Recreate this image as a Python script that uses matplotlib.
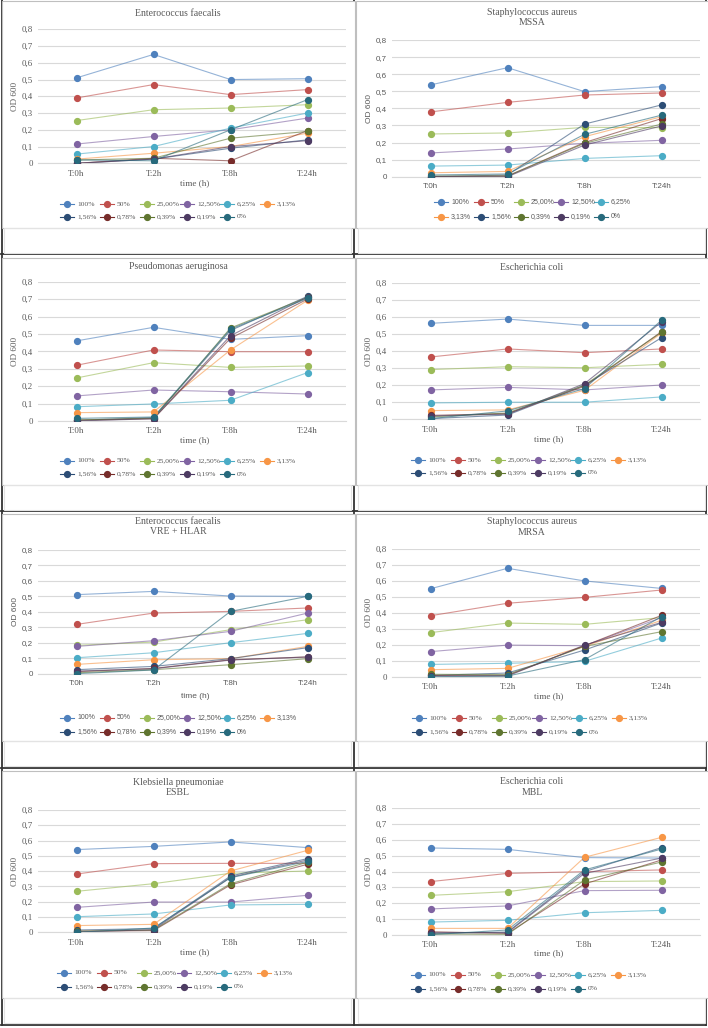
import numpy as np
import matplotlib
matplotlib.use('Agg')
import matplotlib.pyplot as plt
from matplotlib.patches import Rectangle
from matplotlib.lines import Line2D

#%% data
times = ['T:0h', 'T:2h', 'T:8h', 'T:24h']
conc = ['100%', '50%', '25,00%', '12,50%', '6,25%', '3,13%',
        '1,56%', '0,78%', '0,39%', '0,19%', '0%']
colors = ['#4F81BD', '#C0504D', '#9BBB59', '#8064A2', '#4BACC6', '#F79646',
          '#2C4D75', '#772C2A', '#5F7530', '#4D3B62', '#276A7C']

# one row per concentration (same order as conc), OD 600 at T:0h, T:2h, T:8h, T:24h
ef = [[0.51, 0.65, 0.50, 0.505],
      [0.39, 0.47, 0.41, 0.44],
      [0.255, 0.32, 0.33, 0.35],
      [0.115, 0.16, 0.20, 0.27],
      [0.055, 0.10, 0.21, 0.30],
      [0.025, 0.06, 0.10, 0.18],
      [0.0, 0.025, 0.09, 0.14],
      [0.0, 0.03, 0.015, 0.195],
      [0.02, 0.03, 0.15, 0.19],
      [0.0, 0.025, 0.10, 0.135],
      [0.02, 0.015, 0.20, 0.38]]

mssa = [[0.537, 0.638, 0.498, 0.527],
        [0.379, 0.435, 0.478, 0.49],
        [0.25, 0.256, 0.289, 0.287],
        [0.139, 0.162, 0.195, 0.213],
        [0.062, 0.068, 0.107, 0.123],
        [0.023, 0.031, 0.234, 0.351],
        [0.0, 0.01, 0.308, 0.42],
        [0.0, 0.004, 0.20, 0.34],
        [0.004, 0.004, 0.195, 0.308],
        [0.0, 0.0, 0.185, 0.297],
        [0.01, 0.016, 0.248, 0.36]]

pa = [[0.46, 0.538, 0.469, 0.49],
      [0.32, 0.408, 0.398, 0.398],
      [0.247, 0.335, 0.308, 0.316],
      [0.144, 0.178, 0.168, 0.155],
      [0.082, 0.098, 0.119, 0.278],
      [0.048, 0.052, 0.408, 0.693],
      [0.004, 0.019, 0.52, 0.716],
      [0.004, 0.013, 0.475, 0.70],
      [0.006, 0.016, 0.534, 0.71],
      [0.0, 0.013, 0.49, 0.712],
      [0.015, 0.023, 0.528, 0.704]]

ec = [[0.562, 0.587, 0.55, 0.55],
      [0.365, 0.412, 0.39, 0.412],
      [0.291, 0.308, 0.302, 0.322],
      [0.172, 0.187, 0.172, 0.201],
      [0.096, 0.10, 0.10, 0.131],
      [0.051, 0.055, 0.17, 0.505],
      [0.004, 0.025, 0.199, 0.478],
      [0.023, 0.033, 0.193, 0.513],
      [0.014, 0.037, 0.20, 0.51],
      [0.02, 0.03, 0.209, 0.57],
      [0.004, 0.049, 0.18, 0.58]]

vre = [[0.51, 0.531, 0.501, 0.499],
       [0.318, 0.391, 0.402, 0.424],
       [0.183, 0.204, 0.284, 0.348],
       [0.176, 0.213, 0.273, 0.391],
       [0.103, 0.135, 0.20, 0.26],
       [0.06, 0.09, 0.097, 0.176],
       [0.026, 0.047, 0.097, 0.168],
       [0.013, 0.034, 0.09, 0.108],
       [0.006, 0.026, 0.058, 0.097],
       [0.017, 0.032, 0.088, 0.108],
       [0.0, 0.024, 0.402, 0.499]]

mrsa = [[0.551, 0.679, 0.60, 0.553],
        [0.382, 0.46, 0.497, 0.543],
        [0.276, 0.336, 0.328, 0.37],
        [0.157, 0.198, 0.194, 0.37],
        [0.077, 0.084, 0.096, 0.242],
        [0.044, 0.052, 0.19, 0.353],
        [0.008, 0.023, 0.167, 0.336],
        [0.008, 0.008, 0.194, 0.384],
        [0.015, 0.013, 0.19, 0.282],
        [0.004, 0.004, 0.198, 0.34],
        [0.0, 0.004, 0.107, 0.376]]

kp = [[0.541, 0.562, 0.591, 0.554],
      [0.381, 0.449, 0.451, 0.451],
      [0.268, 0.318, 0.386, 0.401],
      [0.163, 0.198, 0.198, 0.242],
      [0.102, 0.12, 0.179, 0.183],
      [0.044, 0.052, 0.401, 0.536],
      [0.015, 0.024, 0.368, 0.482],
      [0.007, 0.011, 0.31, 0.445],
      [0.007, 0.015, 0.318, 0.458],
      [0.002, 0.017, 0.36, 0.473],
      [0.0, 0.028, 0.357, 0.464]]

mbl = [[0.549, 0.54, 0.488, 0.485],
       [0.336, 0.388, 0.399, 0.41],
       [0.249, 0.272, 0.336, 0.34],
       [0.163, 0.182, 0.279, 0.281],
       [0.08, 0.091, 0.139, 0.154],
       [0.04, 0.04, 0.49, 0.616],
       [0.008, 0.017, 0.399, 0.551],
       [0.019, 0.008, 0.321, 0.473],
       [0.004, 0.002, 0.346, 0.46],
       [0.013, 0.013, 0.388, 0.485],
       [0.0, 0.03, 0.41, 0.542]]

yticks = [0, 0.1, 0.2, 0.3, 0.4, 0.5, 0.6, 0.7, 0.8]
ytick_labels = ['0', '0,1', '0,2', '0,3', '0,4', '0,5', '0,6', '0,7', '0,8']

#%% layout (pixels)
W, H = 708, 1028
fig = plt.figure(figsize=(W / 100, H / 100), dpi=100)
txt = '#595959'
grid = '#d9d9d9'
SERIF = ['Liberation Serif', 'DejaVu Serif']
SANS = ['Liberation Sans', 'DejaVu Sans']

row_tops = [0, 257, 513, 770]
col_lefts = [0, 354]


def fx(x):
    return x / W


def fy(y):
    return 1 - y / H


# table lines
for y in [254, 511, 768, 1025]:
    fig.add_artist(Line2D([fx(1), fx(706)], [fy(y), fy(y)], color='#333333', lw=1.3, zorder=1))
for x in [1.5, 354, 706]:
    fig.add_artist(Line2D([fx(x), fx(x)], [fy(0), fy(1025)], color='#333333', lw=1.3, zorder=1))


def panel(r, c, data, title, y8, y0, ty, xlab_y, leg_rows, leg_x, sans_ticks=False,
          has_xlabel=True, legend_skip=()):
    cx, cy = col_lefts[c], row_tops[r]
    # chart box and lower empty box
    fig.add_artist(Rectangle((fx(cx + 2), fy(cy + 228)), 352.5 / W, 227 / H,
                             transform=fig.transFigure, facecolor='white',
                             edgecolor='#bfbfbf', lw=0.8, zorder=2))
    fig.add_artist(Rectangle((fx(cx + 4), fy(cy + 253)), 347 / W, 25 / H,
                             transform=fig.transFigure, facecolor='none',
                             edgecolor='#e3e3e3', lw=0.8, zorder=2))
    tf = SANS if sans_ticks else SERIF
    fs = 5.8 if sans_ticks else 6.4
    ax = fig.add_axes([fx(cx + 38), fy(cy + y0), 308 / W, (y0 - y8) / H], zorder=3)
    ax.set_facecolor('none')
    for i, row in enumerate(data):
        ax.plot(range(4), row, color=colors[i], lw=0.8, alpha=0.6, zorder=2)
        ax.plot(range(4), row, ls='none', marker='o', ms=4.2, color=colors[i], zorder=3)
    ax.set_xlim(-0.5, 3.5)
    ax.set_ylim(0, 0.8)
    ax.set_yticks(yticks)
    ax.set_yticklabels(ytick_labels, fontsize=fs, color=txt, family=tf)
    ax.set_xticks(range(4))
    ax.set_xticklabels(times, fontsize=fs, color=txt, family=tf)
    ax.tick_params(length=0, pad=4.5)
    ax.tick_params(axis='y', pad=3.5)
    ax.grid(axis='y', color=grid, lw=0.8)
    ax.set_axisbelow(True)
    for s in ['top', 'right', 'left']:
        ax.spines[s].set_visible(False)
    ax.spines['bottom'].set_color(grid)
    ax.spines['bottom'].set_linewidth(0.8)
    ax.set_ylabel('OD 600', fontsize=fs + 0.2, color=txt, family=tf)
    ax.yaxis.set_label_coords(-0.062, 0.5)
    # title
    fig.text(fx(cx + 178), fy(cy + ty), title, ha='center', va='top', fontsize=7.0,
             color=txt, family=SERIF, linespacing=1.2, zorder=4)
    if has_xlabel:
        fig.text(fx(cx + 195), fy(cy + xlab_y), 'time (h)', ha='center', va='center',
                 fontsize=fs + 0.2, color=txt, family=tf, zorder=4)
    # legend: Excel style, fixed column pitch, filled row by row
    idx = [i for i in range(len(conc)) if i not in legend_skip]
    ncol = 6 if len(idx) == 11 else 5
    lfs = 5.0 if sans_ticks else 5.4
    for n, i in enumerate(idx):
        rr, kk = divmod(n, ncol)
        x0 = cx + leg_x + 40 * kk
        yy = fy(cy + leg_rows[rr])
        fig.add_artist(Line2D([fx(x0), fx(x0 + 14)], [yy, yy], color=colors[i],
                              lw=0.8, zorder=4))
        fig.add_artist(Line2D([fx(x0 + 7)], [yy], color=colors[i], marker='o',
                              ms=4.2, ls='none', zorder=4))
        fig.text(fx(x0 + 17), yy, conc[i], ha='left', va='center', fontsize=lfs,
                 color=txt, family=tf, zorder=4)
    return ax


panel(0, 0, ef, 'Enterococcus faecalis', 29.3, 163.3, 9, 183, (204, 217), 60)
panel(0, 1, mssa, 'Staphylococcus aureus\nMSSA', 40, 176.7, 8, 0, (202, 217), 80,
      sans_ticks=True, has_xlabel=False, legend_skip=(7,))
panel(1, 0, pa, 'Pseudomonas aeruginosa', 24.7, 164, 5, 183, (204, 217), 60)
panel(1, 1, ec, 'Escherichia coli', 25.7, 162.3, 5.5, 182, (203, 216), 57)
panel(2, 0, vre, 'Enterococcus faecalis\nVRE + HLAR', 36.7, 160.7, 4, 183, (204.7, 219), 60,
      sans_ticks=True)
panel(2, 1, mrsa, 'Staphylococcus aureus\nMRSA', 36, 163.7, 4.5, 183, (205, 219), 58)
panel(3, 0, kp, 'Klebsiella pneumoniae\nESBL', 40, 162.3, 8, 182, (203, 217), 57)
panel(3, 1, mbl, 'Escherichia coli\nMBL', 38.3, 164.7, 7.5, 183, (205, 219), 57)

fig.savefig('out.png', dpi=100)
